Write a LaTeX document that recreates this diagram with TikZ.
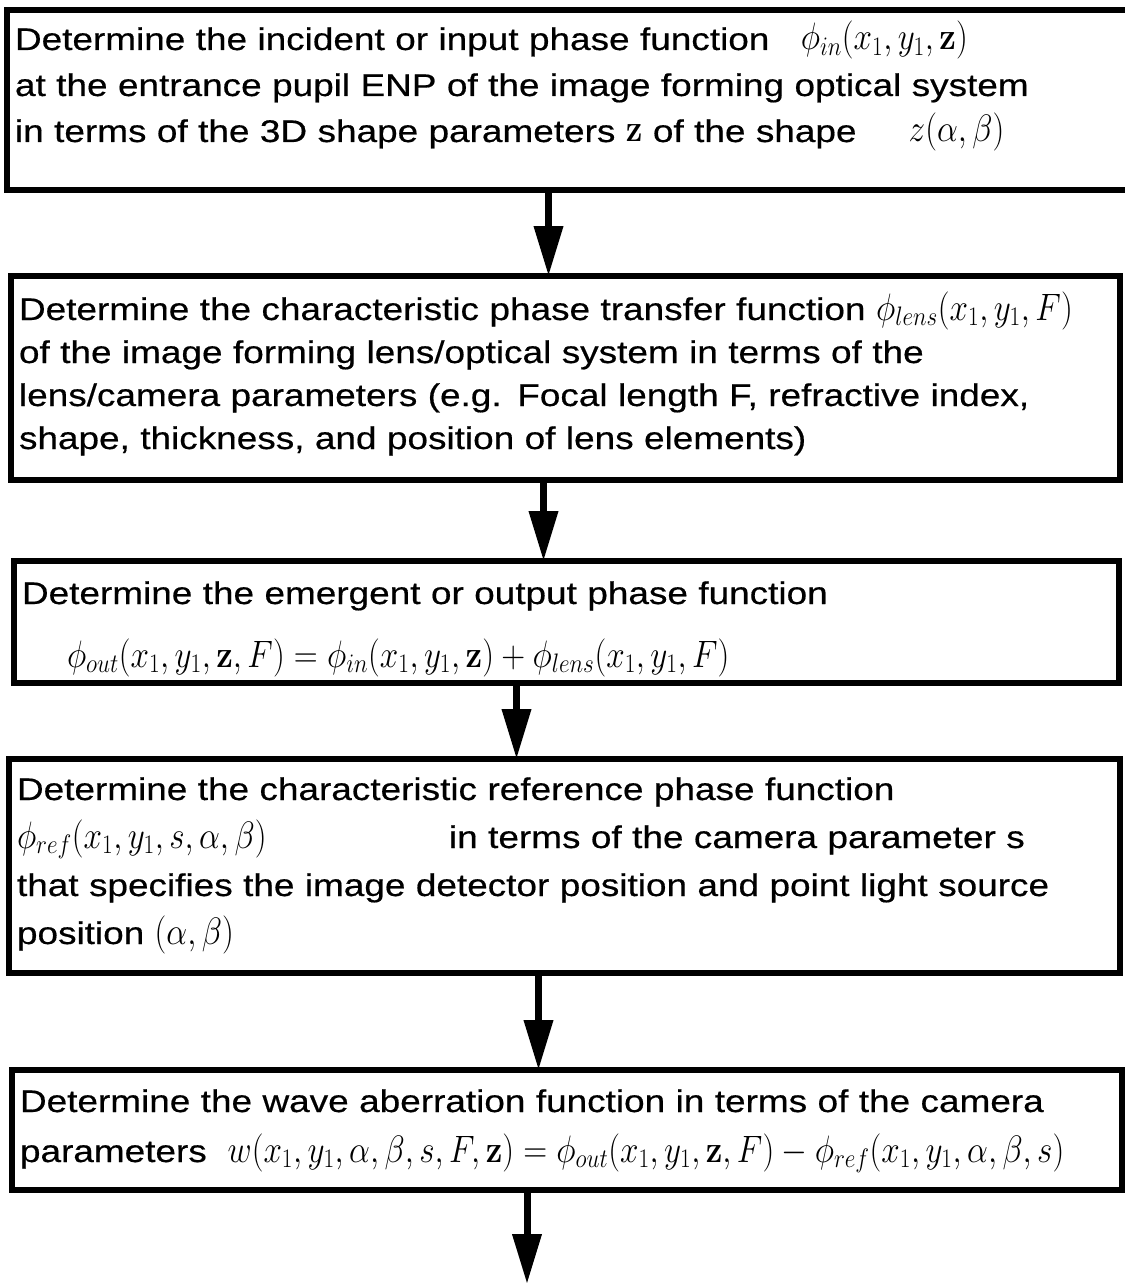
\documentclass[tikz,border=0pt]{standalone}
\usepackage{fix-cm}
\usepackage[no-math]{fontspec}
\setmainfont{Liberation Sans}[FakeStretch=1.18, FakeBold=0.5]
\usetikzlibrary{arrows.meta}

\newcommand{\fm}[1]{\scalebox{1.06}[1.22]{$#1$}}

\tikzset{
  stepbox/.style={draw, line width=6pt, anchor=north west, outer sep=0pt,
    inner xsep=8pt, inner ysep=0pt, align=left},
  flow/.style={line width=7pt, -{Triangle[length=50pt,width=28pt]}},
}

\begin{document}
\begin{tikzpicture}[x=1pt, y=-1pt]
  \useasboundingbox (0,0) rectangle (1124,1284);

  \node[stepbox, text width=1107pt, text height=40pt, text depth=140pt,
        font=\fontsize{31.3}{46}\selectfont] (phin) at (7,10)
    {Determine the incident or input phase function \ ~\fm{\phi_{in}(x_1, y_1, \mathbf{z})}\\
     at the entrance pupil ENP of the image forming optical system\\
     in terms of the 3D shape parameters \fm{\mathbf{z}} of the shape \quad~\fm{z(\alpha, \beta)}};

  \node[stepbox, text width=1093pt, text height=44pt, text depth=160pt,
        font=\fontsize{31.3}{43}\selectfont] (lens) at (11,276)
    {Determine the characteristic phase transfer function~\fm{\phi_{lens}(x_1, y_1, F)}\\
     of the image forming lens/optical system in terms of the\\
     lens/camera parameters (e.g. Focal length F, refractive index,\\
     shape, thickness, and position of lens elements)};

  \node[stepbox, text width=1089pt, text height=43pt, text depth=79pt,
        font=\fontsize{31.3}{63}\selectfont] (phout) at (14,561)
    {Determine the emergent or output phase function\\
     \hspace*{45pt}\fm{\phi_{out}(x_1, y_1, \mathbf{z}, F) = \phi_{in}(x_1, y_1, \mathbf{z}) + \phi_{lens}(x_1, y_1, F)}};

  \node[stepbox, text width=1095pt, text height=41pt, text depth=173pt,
        font=\fontsize{31.3}{48}\selectfont] (phref) at (9,759)
    {Determine the characteristic reference phase function\\
     \makebox[432pt][l]{\fm{\phi_{ref}(x_1, y_1, s, \alpha, \beta)}}in terms of the camera parameter s\\
     that specifies the image detector position and point light source\\
     position~\fm{(\alpha, \beta)}};

  \node[stepbox, text width=1094pt, text height=42pt, text depth=78pt,
        font=\fontsize{31.3}{50}\selectfont] (wave) at (12,1070)
    {Determine the wave aberration function in terms of the camera\\
     parameters~\ \fm{w(x_1,y_1,\alpha,\beta,s,F,\mathbf{z}) = \phi_{out}(x_1,y_1,\mathbf{z},F) - \phi_{ref}(x_1,y_1,\alpha,\beta,s)}};

  \coordinate (end) at (527,1284);

  \draw[flow] ([xshift=-20pt]phin.south) -- ([xshift=-20pt]phin.south |- lens.north);
  \draw[flow] ([xshift=-22pt]lens.south) -- ([xshift=-22pt]lens.south |- phout.north);
  \draw[flow] ([xshift=-50pt]phout.south) -- ([xshift=-50pt]phout.south |- phref.north);
  \draw[flow] ([xshift=-26pt]phref.south) -- ([xshift=-26pt]phref.south |- wave.north);
  \draw[flow] ([xshift=-40pt]wave.south) -- (end);
\end{tikzpicture}
\end{document}
